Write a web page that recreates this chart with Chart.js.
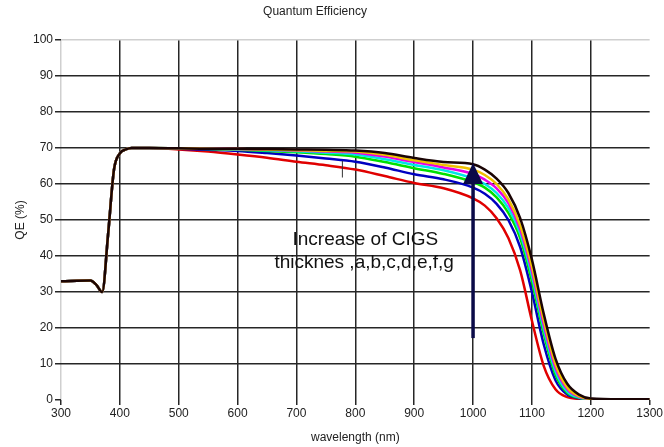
<!DOCTYPE html>
<html>
<head>
<meta charset="utf-8">
<script src="https://cdn.jsdelivr.net/npm/chart.js@4/dist/chart.umd.min.js"></script>
<style>
  html, body { margin: 0; padding: 0; background: #fff; }
  #wrap { width: 664px; height: 447px; }
</style>
</head>
<body>
<div id="wrap"><canvas id="qeChart" width="664" height="447"></canvas></div>
<script>
// wavelength samples (nm)
const wavelengths = [300, 350, 360, 370, 380, 390, 400, 410, 420, 450, 500, 550, 600, 650, 700, 750, 800, 850, 900, 950, 1000, 1020, 1040, 1060, 1080, 1100, 1120, 1140, 1160, 1180, 1200, 1250, 1300];

// shared part of all curves (300..450 nm)
const commonStart = [33, 33.2, 32, 30, 46, 64, 68.5, 69.6, 70, 70];

// QE (%) for each CIGS thickness, from 500 nm on
const qeA = [69.6, 69.0, 68.2, 67.3, 66.2, 65.2, 64.0, 62.2, 60.3, 58.8, 56.0, 54.0, 50.5, 45.0, 36.0, 22.0, 9.5, 3.0, 0.8, 0.3, 0.2, 0.2, null];
const qeB = [69.8, 69.5, 69.2, 68.6, 67.9, 67.1, 66.2, 64.6, 62.7, 61.3, 59.0, 57.3, 54.5, 50.0, 42.5, 30.0, 15.5, 5.5, 1.5, 0.5, 0.2, 0.2, 0.2];
const qeC = [69.9, 69.7, 69.5, 69.2, 68.8, 68.3, 67.6, 66.1, 64.4, 62.8, 60.5, 59.0, 56.3, 52.0, 45.0, 33.0, 18.5, 7.0, 2.0, 0.6, 0.2, 0.2, 0.2];
const qeD = [69.9, 69.8, 69.6, 69.4, 69.1, 68.7, 68.2, 66.9, 65.3, 63.8, 61.5, 60.0, 57.5, 53.3, 46.3, 34.5, 19.8, 8.0, 2.4, 0.7, 0.3, 0.2, 0.2];
const qeE = [69.9, 69.8, 69.7, 69.5, 69.3, 69.0, 68.7, 67.6, 66.1, 64.6, 62.8, 61.2, 58.8, 54.7, 47.5, 35.8, 21.0, 9.0, 3.0, 0.9, 0.3, 0.2, 0.2];
const qeF = [69.9, 69.8, 69.7, 69.6, 69.4, 69.2, 69.0, 68.1, 66.6, 65.3, 64.0, 62.5, 60.0, 55.7, 48.5, 37.0, 22.3, 10.0, 3.5, 1.1, 0.3, 0.2, 0.2];
const qeG = [69.9, 69.8, 69.8, 69.7, 69.6, 69.5, 69.3, 68.6, 67.2, 66.1, 65.5, 64.0, 61.5, 57.5, 50.5, 39.0, 24.0, 11.5, 4.5, 1.5, 0.4, 0.2, 0.2];

const seriesNames = ['a', 'b', 'c', 'd', 'e', 'f', 'g'];
const seriesValues = [qeA, qeB, qeC, qeD, qeE, qeF, qeG];
const seriesColors = ['#e00000', '#0000c0', '#00e000', '#00e6e6', '#e600e6', '#f0c000', '#1a0404'];

const yTicks = [0, 10, 20, 30, 40, 50, 60, 70, 80, 90, 100];
const xTicks = [300, 400, 500, 600, 700, 800, 900, 1000, 1100, 1200, 1300];

const datasets = seriesValues.map((vals, i) => {
    const ys = commonStart.concat(vals);
    return {
        label: seriesNames[i],
        data: wavelengths.map((w, j) => ({ x: w, y: ys[j] })),
        borderColor: seriesColors[i],
        borderWidth: 2.5,
        pointRadius: 0,
        fill: false,
        cubicInterpolationMode: 'monotone',
        spanGaps: false,
        order: seriesValues.length - i
    };
});

// title, annotation text, arrow and the little cursor mark
const extras = {
    id: 'extras',
    afterDatasetsDraw(chart) {
        const c = chart.ctx;
        const xs = chart.scales.x, ys = chart.scales.y;
        c.save();
        c.fillStyle = '#222';
        c.textAlign = 'center';
        c.textBaseline = 'middle';
        c.font = '12px "Liberation Sans Narrow", "Liberation Sans", Arial, sans-serif';
        c.fillText('Quantum Efficiency', 315, 12);

        // cursor mark
        c.strokeStyle = '#333';
        c.lineWidth = 1;
        const mx = xs.getPixelForValue(778);
        c.beginPath();
        c.moveTo(mx, ys.getPixelForValue(66.4));
        c.lineTo(mx, ys.getPixelForValue(61.8));
        c.stroke();

        // annotation
        c.fillStyle = '#111';
        c.font = '19px "Liberation Sans", Arial, sans-serif';
        c.fillText('Increase of CIGS', xs.getPixelForValue(817), ys.getPixelForValue(44.4));
        c.fillText('thicknes ,a,b,c,d,e,f,g', xs.getPixelForValue(815), ys.getPixelForValue(38));

        // arrow
        const ax = xs.getPixelForValue(1000);
        const yBot = ys.getPixelForValue(17.2);
        const yTip = ys.getPixelForValue(65.8);
        c.strokeStyle = '#0a0a48';
        c.fillStyle = '#0a0a48';
        c.lineWidth = 3.5;
        c.beginPath();
        c.moveTo(ax, yBot);
        c.lineTo(ax, yTip + 15);
        c.stroke();
        c.beginPath();
        c.moveTo(ax, yTip);
        c.lineTo(ax - 10, yTip + 21);
        c.lineTo(ax + 10, yTip + 21);
        c.closePath();
        c.fill();
        c.restore();
    }
};

const tickFont = { family: '"Liberation Sans Narrow", "Liberation Sans", Arial, sans-serif', size: 12 };

new Chart(document.getElementById('qeChart').getContext('2d'), {
    type: 'line',
    data: { datasets: datasets },
    options: {
        responsive: false,
        animation: false,
        layout: { padding: { top: 40, right: 13, left: 0, bottom: 0 } },
        plugins: {
            legend: { display: false },
            tooltip: { enabled: false }
        },
        scales: {
            x: {
                type: 'linear',
                min: 300,
                max: 1300,
                afterBuildTicks: (s) => { s.ticks = xTicks.map(v => ({ value: v })); },
                afterFit: (s) => { s.height = 47; },
                ticks: { color: '#222', font: tickFont, padding: 1, maxRotation: 0, callback: (v) => String(v) },
                grid: {
                    color: (ctx) => ctx.tick.value === 300 ? '#cfcfcf' : (ctx.tick.value === 1300 ? 'rgba(0,0,0,0)' : '#262626'),
                    lineWidth: 1.5,
                    tickLength: 5,
                    tickColor: '#262626'
                },
                border: { display: false },
                title: { display: true, text: 'wavelength (nm)', color: '#222', font: tickFont, padding: { top: 2, bottom: 2 } }
            },
            y: {
                min: 0,
                max: 100,
                afterBuildTicks: (s) => { s.ticks = yTicks.map(v => ({ value: v })); },
                afterFit: (s) => { s.width = 61; },
                ticks: { color: '#222', font: tickFont, padding: 2, callback: (v) => String(v) },
                grid: {
                    color: (ctx) => ctx.tick.value === 100 ? '#cfcfcf' : (ctx.tick.value === 0 ? 'rgba(0,0,0,0)' : '#262626'),
                    lineWidth: 1.5,
                    tickLength: 6,
                    tickColor: '#262626'
                },
                border: { display: false },
                title: { display: true, text: 'QE (%)', color: '#222', font: tickFont, padding: { top: 13, bottom: 0 } }
            }
        }
    },
    plugins: [extras]
});
</script>
</body>
</html>
